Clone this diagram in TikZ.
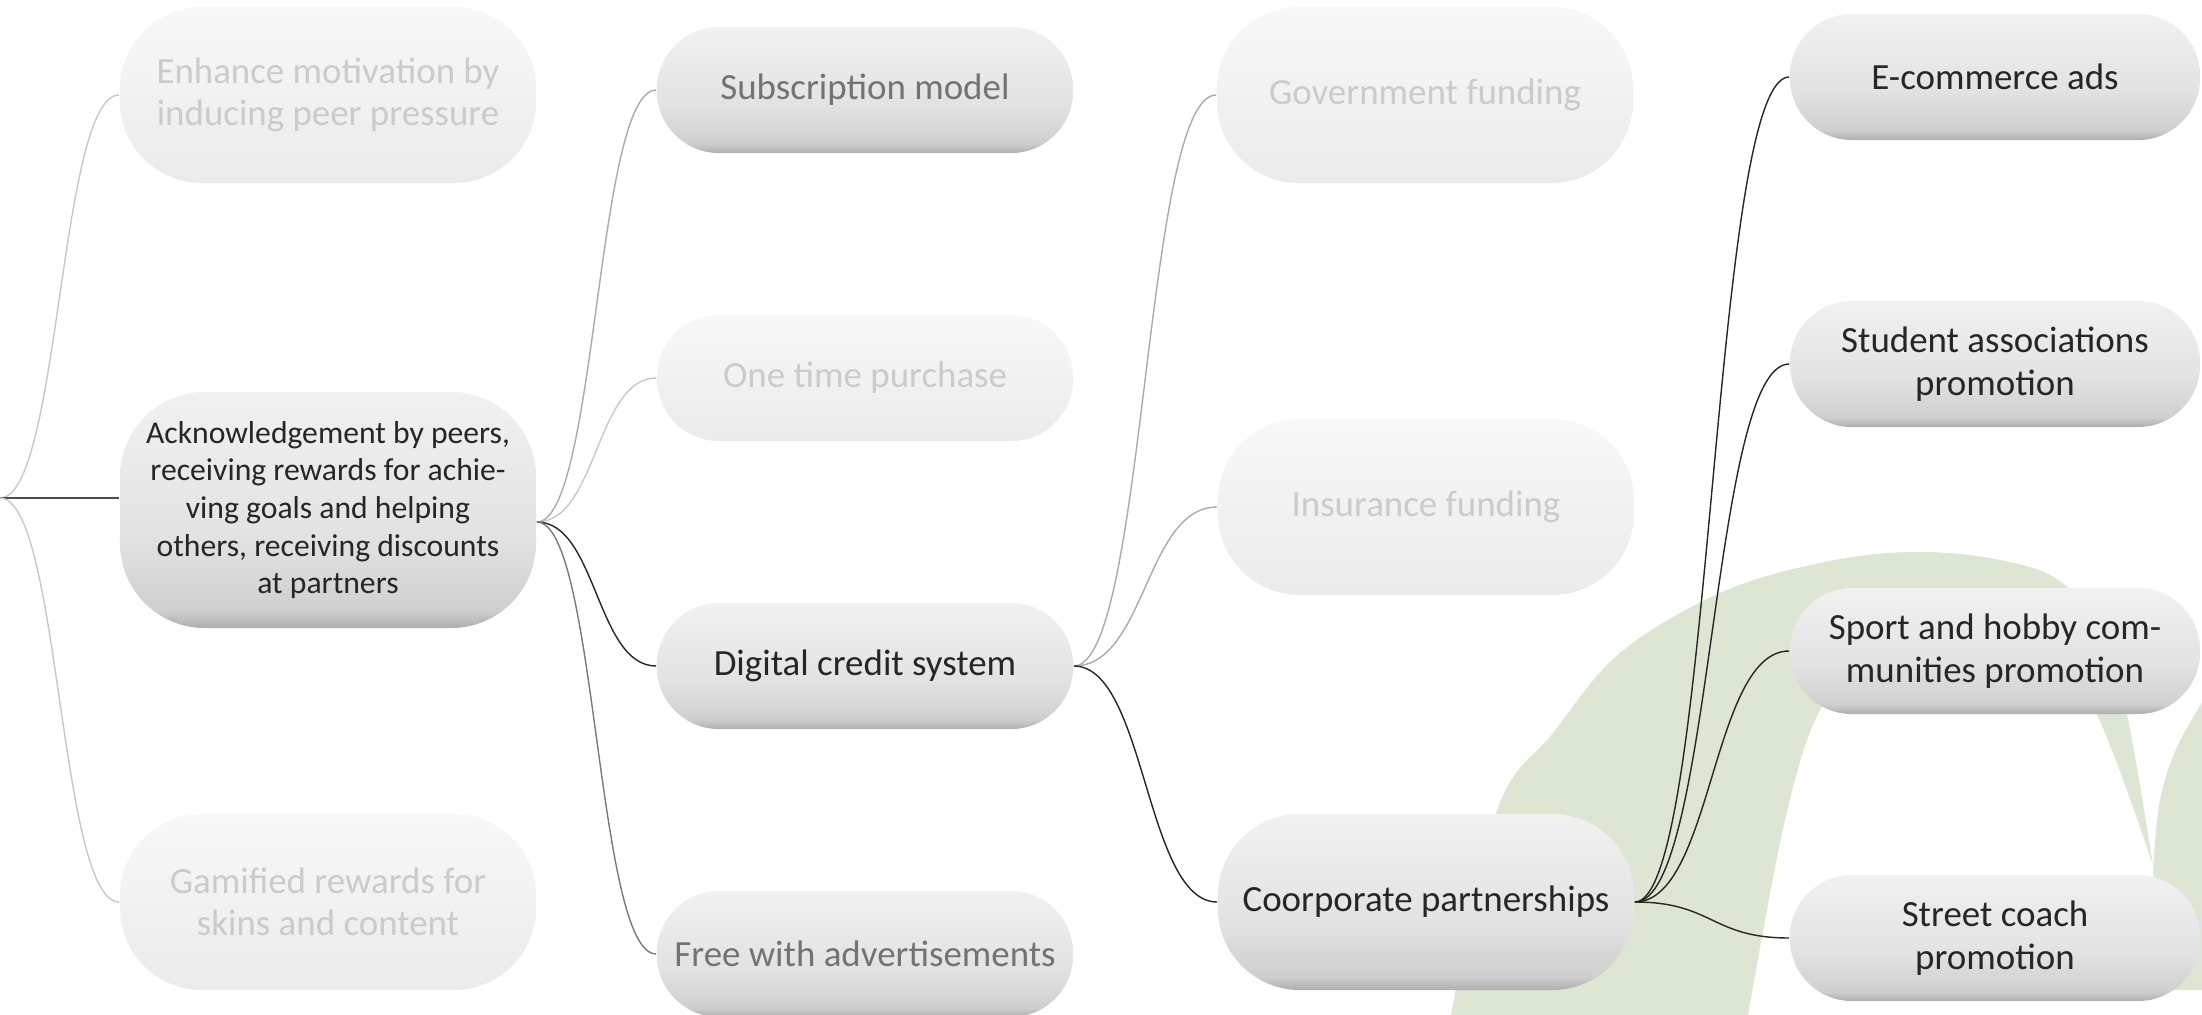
\documentclass[tikz,border=0pt]{standalone}
\usepackage{fontspec}
\setmainfont{Carlito}
\usetikzlibrary{calc}

% box colours
\definecolor{pT}{HTML}{F1F1F1}
\definecolor{pM}{HTML}{E3E3E3}
\definecolor{pC}{HTML}{D0D0D0}
\definecolor{pB}{HTML}{AEAEAE}
\definecolor{fT}{HTML}{F8F8F8}
\definecolor{fB}{HTML}{EBEBEB}
% text colours
\definecolor{txtDark}{HTML}{262626}
\definecolor{txtMid}{HTML}{737373}
\definecolor{txtFade}{HTML}{CBCBCB}
% connector colours
\definecolor{lnDark}{HTML}{262626}
\definecolor{lnRoot}{HTML}{4E4E4E}
\definecolor{lnMid}{HTML}{7A7A7A}
\definecolor{lnSoft}{HTML}{ABABAB}
\definecolor{lnFade}{HTML}{C8C8C8}
% background leaf
\definecolor{leafgreen}{HTML}{DCE6D3}

\pgfdeclareverticalshading{boxshade}{100bp}{color(0bp)=(pB); color(25bp)=(pB); color(29bp)=(pC); color(45bp)=(pM); color(75bp)=(pT); color(100bp)=(pT)}
\pgfdeclareverticalshading{fadeshade}{100bp}{color(0bp)=(fB); color(25bp)=(fB); color(75bp)=(fT); color(100bp)=(fT)}

\tikzset{
  box/.style={rectangle, rounded corners=6.2mm, minimum width=4.16cm,
    align=center, inner sep=0pt, font=\fontsize{10.5}{12.1}\selectfont},
  pillbox/.style={box, minimum height=1.26cm},
  tallbox/.style={box, minimum height=1.76cm, rounded corners=8.2mm},
  live/.style={shade, shading=boxshade, text=txtDark},
  half/.style={shade, shading=boxshade, text=txtMid},
  faded/.style={shade, shading=fadeshade, text=txtFade},
  link/.style={line width=0.4pt},
  leaf/.style={fill=leafgreen},
}

\begin{document}
\begin{tikzpicture}[x=0.01cm, y=-0.01cm]
\useasboundingbox (0,0) rectangle (2202,1015);
\clip (0,0) rectangle (2202,1015);

% decorative leaf shapes in the background
\fill[leaf] plot[smooth, tension=0.6] coordinates {(1451,1015) (1497,810) (1553,733) (1620,653) (1720,593) (1820,563) (1911,552) (2000,560) (2065,585) (2105,650) (2127,715) (2153,865)}
  -- plot[smooth, tension=0.6] coordinates {(2153,865) (2097,715) (2050,660) (1960,635) (1870,660) (1820,710) (1785,820) (1748,1015)} -- cycle;
\fill[leaf] plot[smooth, tension=0.6] coordinates {(2210,690) (2178,745) (2160,800) (2153,870)} -- (2160,990) -- (2210,990) -- cycle;

% level 1
\node[tallbox, faded] (A) at (328,95) {Enhance motivation by\\inducing peer pressure};
\node[box, live, minimum height=2.36cm, rounded corners=8.5mm, font=\fontsize{9}{10.7}\selectfont] (B) at (328,510)
  {Acknowledgement by peers,\\receiving rewards for achie-\\ving goals and helping\\others, receiving discounts\\at partners};
\node[tallbox, faded] (C) at (328,902) {Gamified rewards for\\skins and content};

% level 2
\node[pillbox, half]  (D) at (865,90)  {Subscription model};
\node[pillbox, faded] (E) at (865,378) {One time purchase};
\node[pillbox, live]  (F) at (865,666) {Digital credit system};
\node[pillbox, half]  (G) at (865,954) {Free with advertisements};

% level 3
\node[tallbox, faded] (H) at (1425,95)  {Government funding};
\node[tallbox, faded] (I) at (1426,507) {Insurance funding};
\node[tallbox, live]  (J) at (1426,902) {Coorporate partnerships};

% level 4
\node[pillbox, live, minimum width=4.1cm] (K) at (1995,77)  {E-commerce ads};
\node[pillbox, live, minimum width=4.1cm] (L) at (1995,364) {Student associations\\promotion};
\node[pillbox, live, minimum width=4.1cm] (M) at (1995,651) {Sport and hobby com-\\munities promotion};
\node[pillbox, live, minimum width=4.1cm] (N) at (1995,938) {Street coach\\promotion};

% root connectors
\coordinate (root) at (0,498);
\draw[link, lnFade] (root) .. controls +(60,0) and +(-60,0) .. (A.west);
\draw[line width=0.7pt, lnRoot] (root) -- (root -| B.west);
\draw[link, lnFade] (root) .. controls +(60,0) and +(-60,0) .. (C.west);

% from B
\coordinate (Bout) at ($(B.east)+(0,12)$);
\draw[link, lnSoft] (Bout) .. controls +(60,0) and +(-60,0) .. (D.west);
\draw[link, lnFade] (Bout) .. controls +(60,0) and +(-60,0) .. (E.west);
\draw[link, lnDark] (Bout) .. controls +(60,0) and +(-60,0) .. (F.west);
\draw[link, lnMid]  (Bout) .. controls +(60,0) and +(-60,0) .. (G.west);

% from F
\draw[link, lnSoft] (F.east) .. controls +(72,0) and +(-72,0) .. (H.west);
\draw[link, lnSoft] (F.east) .. controls +(72,0) and +(-72,0) .. (I.west);
\draw[link, lnDark] (F.east) .. controls +(72,0) and +(-72,0) .. (J.west);

% from J
\draw[link, lnDark] (J.east) .. controls +(78,0) and +(-78,0) .. (K.west);
\draw[link, lnDark] (J.east) .. controls +(78,0) and +(-78,0) .. (L.west);
\draw[link, lnDark] (J.east) .. controls +(78,0) and +(-78,0) .. (M.west);
\draw[link, lnDark] (J.east) .. controls +(78,0) and +(-78,0) .. (N.west);
\end{tikzpicture}
\end{document}
